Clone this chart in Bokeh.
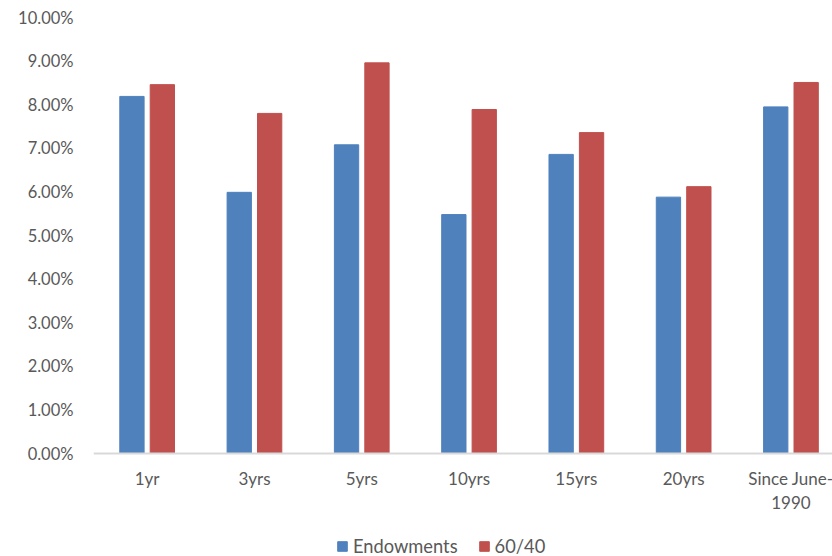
from bokeh.plotting import figure
from bokeh.models import ColumnDataSource, Range1d, NumeralTickFormatter, FixedTicker, Legend, Span
from bokeh.core.properties import value
from bokeh.transform import dodge
from bokeh.embed import file_html
from bokeh.resources import INLINE

categories = ["1yr", "3yrs", "5yrs", "10yrs", "15yrs", "20yrs", "Since June-\n1990"]
endowments = [0.0819, 0.0599, 0.0708, 0.0548, 0.0686, 0.0588, 0.0795]
sixty_forty = [0.0846, 0.0780, 0.0896, 0.0789, 0.0736, 0.0612, 0.0851]
y_ticks = [i / 100 for i in range(0, 11)]

pos = [i + 0.5 for i in range(len(categories))]
src = ColumnDataSource(dict(cat=categories, x=pos, endow=endowments, sf=sixty_forty,
                            zero=[0.0] * len(categories)))

FONT = "Lato"
GREY = "#595959"

# frame: 93..832 px wide (739 px), one category = 107.3 px
p = figure(x_range=Range1d(0, 739 / 107.3), y_range=Range1d(-0.10 * 103 / 436, 0.10),
           frame_width=739, frame_height=539, output_backend="svg", toolbar_location=None,
           x_axis_location=None,
           min_border_left=93, min_border_right=0, min_border_top=17, min_border_bottom=0)

off = 0.1417
bw = 0.2265
r1 = p.vbar(x=dodge("x", -off), top="endow", width=bw, source=src,
            fill_color="#4F81BD", line_color="#4F81BD")
r2 = p.vbar(x=dodge("x", off), top="sf", width=bw, source=src,
            fill_color="#C0504D", line_color="#C0504D")

p.add_layout(Span(location=0, dimension="width", line_color="#D9D9D9", line_width=2))

p.text(x="x", y="zero", text="cat", source=src, text_align="center", text_baseline="top",
       y_offset=14, text_font=value(FONT), text_font_size="17px", text_color=GREY,
       text_line_height=1.17)

p.outline_line_color = None
p.xgrid.grid_line_color = None
p.ygrid.grid_line_color = None

p.yaxis.ticker = FixedTicker(ticks=y_ticks)
p.yaxis.formatter = NumeralTickFormatter(format="0.00%")
p.yaxis.axis_line_color = None
p.yaxis.major_tick_line_color = None
p.yaxis.minor_tick_line_color = None
p.yaxis.major_tick_out = 0
p.yaxis.major_tick_in = 0
p.yaxis.major_label_standoff = 20
p.yaxis.major_label_text_font = FONT
p.yaxis.major_label_text_font_size = "16.5px"
p.yaxis.major_label_text_color = GREY

legend = Legend(items=[("Endowments", [r1]), ("60/40", [r2])], orientation="horizontal",
                location=(243, -1), border_line_color=None, background_fill_alpha=0,
                label_text_font=FONT, label_text_font_size="18.3px", label_text_color=GREY,
                glyph_width=12, glyph_height=12, spacing=20, margin=0, padding=0,
                label_standoff=5, label_height=18)
p.add_layout(legend, "center")

open("out.html", "w").write(file_html(p, INLINE))
